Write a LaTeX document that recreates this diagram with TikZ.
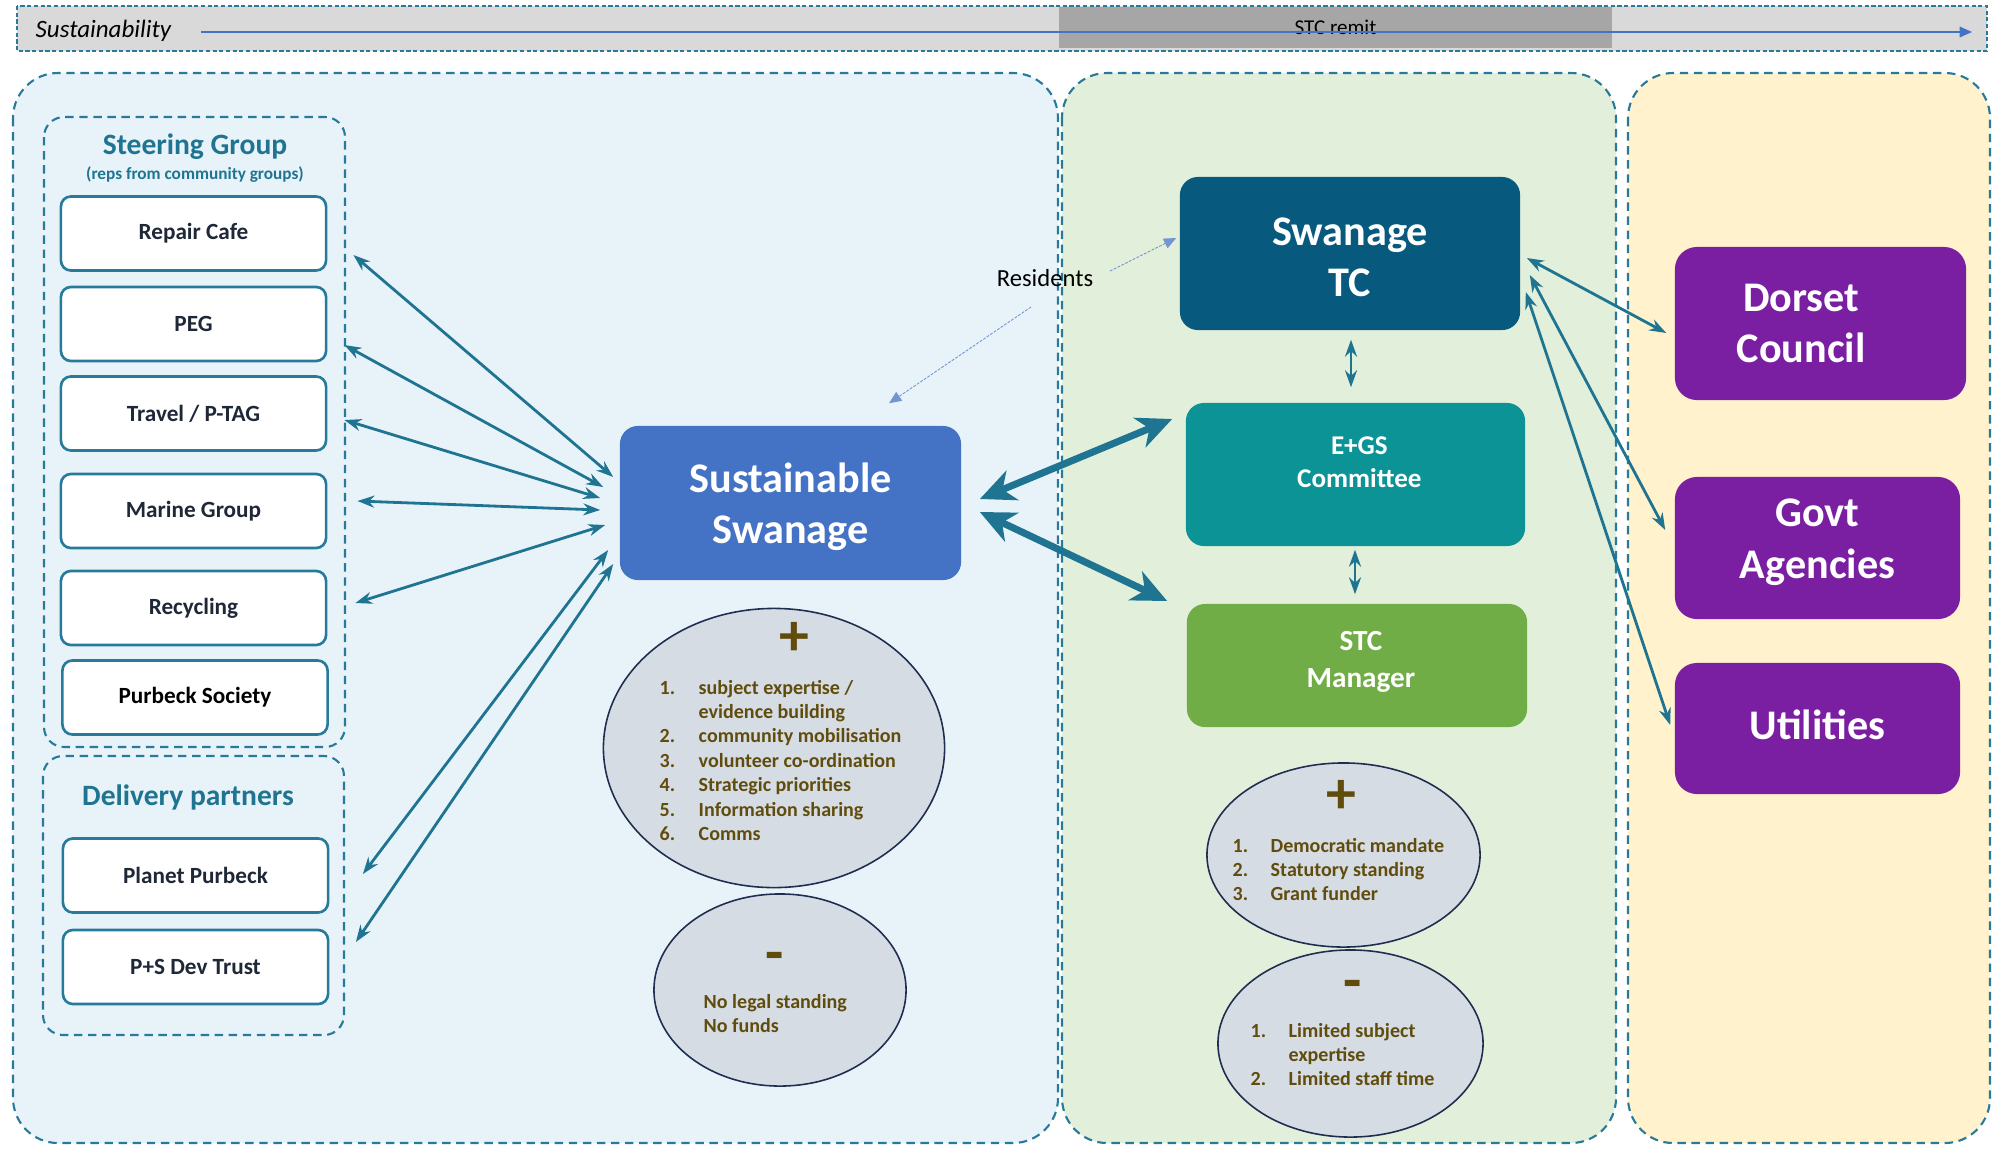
\documentclass[tikz,border=0pt]{standalone}
\usepackage{fontspec}
\setmainfont{Carlito}
\usepackage{tikz}
\usetikzlibrary{calc}
\usetikzlibrary{arrows.meta}
\usetikzlibrary{shapes.geometric}

\definecolor{linkteal}{RGB}{31,117,145}
\definecolor{bordteal}{RGB}{40,122,155}
\definecolor{panelblue}{RGB}{232,243,249}
\definecolor{panelgreen}{RGB}{226,239,218}
\definecolor{panelyellow}{RGB}{255,242,204}
\definecolor{barfill}{RGB}{217,217,217}
\definecolor{remitgray}{RGB}{166,166,166}
\definecolor{sustblue}{RGB}{68,114,196}
\definecolor{tcblue}{RGB}{7,90,126}
\definecolor{egsteal}{RGB}{11,147,150}
\definecolor{mgrgreen}{RGB}{112,173,71}
\definecolor{agencypurple}{RGB}{123,31,162}
\definecolor{ellfill}{RGB}{214,220,228}
\definecolor{ellborder}{RGB}{31,45,80}
\definecolor{olivetext}{RGB}{96,76,12}
\definecolor{boxtext}{RGB}{30,40,55}
\newcommand*{\Fs}[2]{\fontsize{#1}{#2}\selectfont}

\begin{document}
\begin{tikzpicture}[x=0.01cm, y=-0.01cm,
    panel/.style={draw=bordteal, line width=0.6pt, dash pattern=on 2.4pt off 1.6pt, rounded corners=0.45cm},
    groupbox/.style={draw=bordteal, line width=0.6pt, dash pattern=on 2.4pt off 1.6pt, rounded corners=0.2cm},
    member/.style={draw=bordteal, line width=0.75pt, fill=white, rounded corners=0.1cm, minimum width=2.65cm, minimum height=0.74cm, inner sep=0pt, text=boxtext, font=\Fs{6.6}{8}\bfseries},
    bigbox/.style={rounded corners=0.18cm, inner sep=0pt},
    boxlabel/.style={text=white, align=center, inner sep=0pt, font=\Fs{12}{14.6}\bfseries},
    grouptitle/.style={text=linkteal, font=\Fs{8.4}{10}\bfseries},
    procon/.style={ellipse, draw=ellborder, line width=0.45pt, fill=ellfill, inner sep=0pt},
    sign/.style={text=olivetext, font=\Fs{17}{17}\bfseries, inner sep=0pt},
    pros/.style={text=olivetext, font=\Fs{5.7}{6.95}\bfseries, inner sep=0pt, anchor=base west},
    link/.style={draw=linkteal, line width=0.8pt, >={Stealth[length=4.8pt,width=3.4pt]}, <->},
    biglink/.style={draw=linkteal, line width=2pt, >={Stealth[length=10pt,width=9pt,inset=3pt]}, <->},
    resline/.style={draw=sustblue!75, line width=0.25pt, dash pattern=on 0.8pt off 0.4pt, -{Triangle[length=3.5pt,width=3pt]}}
]
    \useasboundingbox (0,0) rectangle (2006,1154);

    % top bar
    \draw[bordteal, line width=0.5pt, dash pattern=on 1.2pt off 0.7pt, fill=barfill] (17,6) rectangle (1987,51);
    \node[fill=remitgray, minimum width=5.53cm, minimum height=0.41cm, inner sep=0pt, font=\Fs{6}{7}] (remit) at (1335.5,27.5) {STC remit};
    \node[anchor=west, inner sep=0pt, font=\Fs{7.1}{8.5}\itshape] (sustain) at (35,31) {Sustainability};
    \coordinate (barstart) at (201,32);
    \coordinate (barend) at (1972,32);
    \draw[sustblue, line width=0.45pt, -{Triangle[length=3.5pt,width=3pt]}] (barstart) -- (barend);

    % panels
    \draw[panel, fill=panelblue] (13,73) rectangle (1058,1143);
    \draw[panel, fill=panelgreen] (1062,73) rectangle (1616,1143);
    \draw[panel, fill=panelyellow] (1628,73) rectangle (1990,1143);
    \draw[groupbox] (44,117) rectangle (345,747);
    \draw[groupbox] (43,756) rectangle (344,1035);

    % community groups
    \node[grouptitle] (steertitle) at (195,147) {Steering Group};
    \node[text=linkteal, font=\Fs{4.9}{5.5}\bfseries] (steersub) at (195,175) {(reps from community groups)};
    \node[member] (repair) at (193.5,233.5) {Repair Cafe};
    \node[member] (peg) at (193.5,324) {PEG};
    \node[member] (travel) at (193.5,413.5) {Travel / P-TAG};
    \node[member] (marine) at (193.5,511) {Marine Group};
    \node[member] (recycling) at (193.5,608) {Recycling};
    \node[member, text=black] (purbeck) at (195,697.5) {Purbeck Society};
    \node[grouptitle] (delivtitle) at (188,797) {Delivery partners};
    \node[member] (planet) at (195.5,875.5) {Planet Purbeck};
    \node[member] (pstrust) at (195.5,967) {P+S Dev Trust};

    % main bodies
    \node[bigbox, fill=sustblue, minimum width=3.41cm, minimum height=1.54cm,
        label={[boxlabel, yshift=-1.1pt]center:Sustainable\\Swanage}] (sust) at (790.5,503) {};
    \node[bigbox, fill=tcblue, minimum width=3.40cm, minimum height=1.53cm,
        label={[boxlabel, yshift=-1.1pt]center:Swanage\\TC}] (tc) at (1350,253.5) {};
    \node[bigbox, fill=egsteal, minimum width=3.39cm, minimum height=1.43cm,
        label={[boxlabel, font=\Fs{7.7}{9.4}\bfseries, xshift=1.1pt, yshift=3.5pt]center:E+GS\\Committee}] (egs) at (1355.5,474.5) {};
    \node[bigbox, fill=mgrgreen, minimum width=3.40cm, minimum height=1.23cm,
        label={[boxlabel, font=\Fs{8.3}{10.5}\bfseries, xshift=1.1pt, yshift=1pt]center:STC\\Manager}] (mgr) at (1357,665.5) {};
    \node[bigbox, fill=agencypurple, rounded corners=0.22cm, minimum width=2.91cm, minimum height=1.53cm,
        label={[boxlabel, xshift=-5.5pt]center:Dorset\\Council}] (dorset) at (1820.5,323.5) {};
    \node[bigbox, fill=agencypurple, rounded corners=0.22cm, minimum width=2.85cm, minimum height=1.42cm,
        label={[boxlabel, yshift=1.6pt]center:Govt\\Agencies}] (govt) at (1817.5,548) {};
    \node[bigbox, fill=agencypurple, rounded corners=0.22cm, minimum width=2.85cm, minimum height=1.31cm,
        label={[boxlabel, yshift=1.1pt]center:Utilities}] (util) at (1817.5,728.5) {};

    % pros and cons
    \node[procon, minimum width=3.41cm, minimum height=2.79cm] (susplus) at (774,748) {};
    \node[procon, minimum width=2.52cm, minimum height=1.92cm] (susminus) at (780,990) {};
    \node[procon, minimum width=2.73cm, minimum height=1.84cm] (tcplus) at (1343.5,855) {};
    \node[procon, minimum width=2.65cm, minimum height=1.87cm] (tcminus) at (1350.5,1043.5) {};
    \node[sign] (susplussign) at (794,639) {+};
    \node[sign] (susminussign) at (775,962) {-};
    \node[sign] (tcplussign) at (1341,797) {+};
    \node[sign] (tcminussign) at (1353,990) {-};
    \node[pros] (suspluslist) at (659,694) {\begin{tabular}[t]{@{}p{0.39cm}@{}l@{}}
        1. & subject expertise /\\
           & evidence building\\
        2. & community mobilisation\\
        3. & volunteer co-ordination\\
        4. & Strategic priorities\\
        5. & Information sharing\\
        6. & Comms
    \end{tabular}};
    \node[pros] (susminuslist) at (703,1008) {\begin{tabular}[t]{@{}l@{}}
        No legal standing\\
        No funds
    \end{tabular}};
    \node[pros] (tcpluslist) at (1232,852) {\begin{tabular}[t]{@{}p{0.38cm}@{}l@{}}
        1. & Democratic mandate\\
        2. & Statutory standing\\
        3. & Grant funder
    \end{tabular}};
    \node[pros] (tcminuslist) at (1250,1037) {\begin{tabular}[t]{@{}p{0.38cm}@{}l@{}}
        1. & Limited subject\\
           & expertise\\
        2. & Limited staff time
    \end{tabular}};

    % residents
    \node[font=\Fs{7}{8.4}, inner sep=1pt] (res) at (1045,278) {Residents};
    \draw[resline] ($(res.center)+(-14,29)$) -- ($(sust.north)+(98.5,-22)$);
    \draw[resline] ($(res.center)+(65,-7)$) -- ($(tc.west)+(-3,-15.5)$);

    % links to community groups
    \draw[link] ($(repair.east)+(26,21.5)$) -- ($(sust.west)+(-6,-26)$);
    \draw[link] ($(peg.east)+(17,21)$) -- ($(sust.west)+(-16,-16)$);
    \draw[link] ($(travel.east)+(17,6.5)$) -- ($(sust.west)+(-19,-5)$);
    \draw[link] ($(marine.east)+(30,-10)$) -- ($(sust.west)+(-19,7)$);
    \draw[link] ($(recycling.east)+(28,-5)$) -- ($(sust.west)+(-14,22)$);
    \draw[link] ($(planet.east)+(33.5,-1.5)$) -- ($(sust.west)+(-11,47)$);
    \draw[link] ($(pstrust.east)+(26.5,-25)$) -- ($(sust.west)+(-6,61)$);

    % links in council
    \draw[biglink] ($(sust.east)+(18,-4)$) -- ($(egs.west)+(-13,-55.5)$);
    \draw[biglink] ($(sust.east)+(18,9)$) -- ($(mgr.west)+(-19,-64.5)$);
    \draw[link] ($(tc.south)+(1,9)$) -- ($(egs.north)+(-4.5,-15)$);
    \draw[link] ($(egs.south)+(-0.5,3)$) -- ($(mgr.north)+(-2,-9)$);
    \draw[link] ($(tc.east)+(6,4.5)$) -- ($(dorset.west)+(-8,9.5)$);
    \draw[link] ($(tc.east)+(9,21.5)$) -- ($(govt.west)+(-9,-18)$);
    \draw[link] ($(tc.east)+(5,38.5)$) -- ($(util.west)+(-4,-3.5)$);
\end{tikzpicture}
\end{document}
